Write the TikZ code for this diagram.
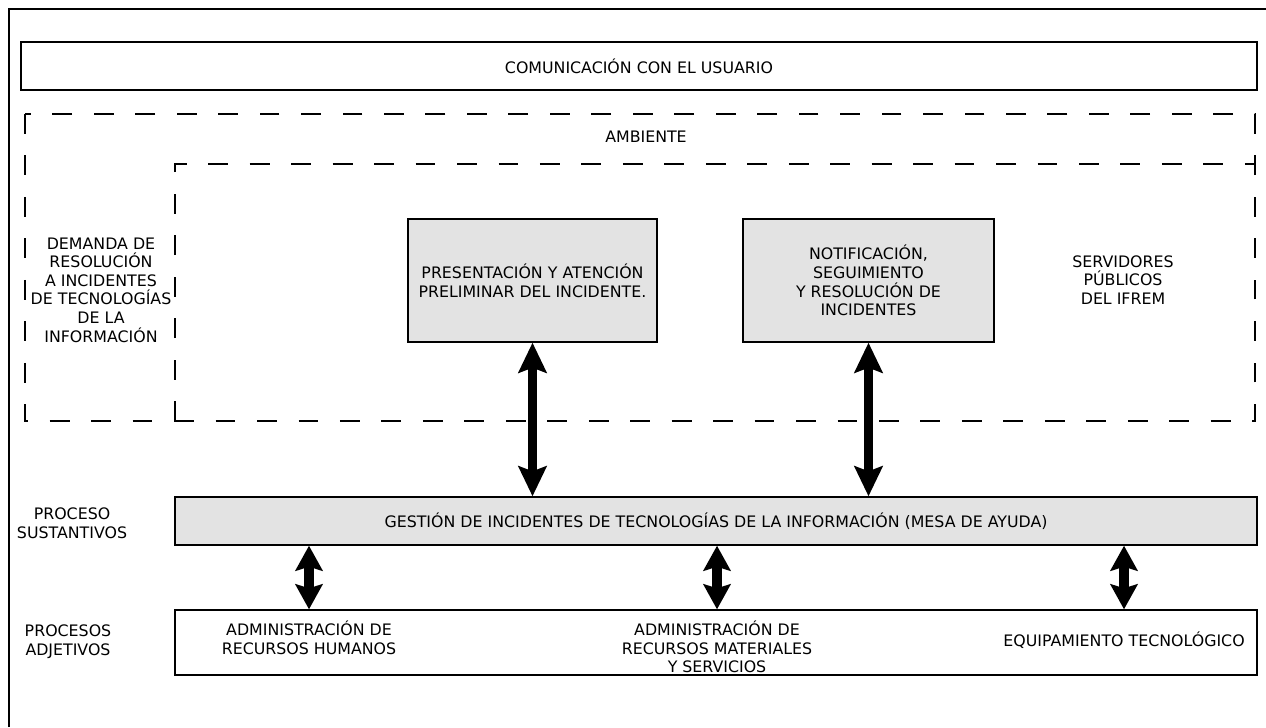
\documentclass[tikz,border=0pt]{standalone}
\usepackage{fontspec}
\setmainfont{DejaVu Sans}
\usetikzlibrary{arrows.meta,positioning,calc}
\tikzset {>=Stealth}
\tikzset{
  box/.style={draw,line width=.8pt,inner sep=0pt},
  shaded/.style={box,fill=gray!22},
  txt/.style={align=center,font=\fontsize{9}{10.6}\selectfont},
  ambdash/.style={dash pattern=on 11.3pt off 12.3pt,line width=.8pt},
  bigarrow/.style={{Stealth[width=.56cm,length=.6cm,inset=.1cm]}-{Stealth[width=.56cm,length=.6cm,inset=.1cm]},line width=.19cm},
  smallarrow/.style={{Stealth[width=.54cm,length=.5cm,inset=.08cm]}-{Stealth[width=.54cm,length=.5cm,inset=.08cm]},line width=.19cm}
}

\begin{document}
\begin{tikzpicture}[x=.02cm,y=-.02cm]
\useasboundingbox (0,0) rectangle (1266,727);
% marco
\draw[line width=.6pt] (9,727) -- (9,9) -- (1266,9);

\node[box,txt,minimum width=24.72cm,minimum height=.96cm] (com) at (639,66) {COMUNICACIÓN CON EL USUARIO};

% ambiente
\draw[ambdash] (25,114) rectangle (1255,421);
\draw[ambdash] (175,421) -- (175,164) -- (1255,164);
\node[txt] (amb) at (646,137) {AMBIENTE};
\node[txt] (dem) at (101,290) {DEMANDA DE\\RESOLUCIÓN\\A INCIDENTES\\DE TECNOLOGÍAS\\DE LA\\INFORMACIÓN};
\node[txt] (serv) at (1123,280) {SERVIDORES\\PÚBLICOS\\DEL IFREM};

\node[shaded,txt,minimum width=4.98cm,minimum height=2.46cm] (pres) at (532.5,280.5)
  {PRESENTACIÓN Y ATENCIÓN\\PRELIMINAR DEL INCIDENTE.};
\node[shaded,txt,minimum width=5.02cm,minimum height=2.46cm] (notif) at (868.5,280.5)
  {NOTIFICACIÓN,\\SEGUIMIENTO\\Y RESOLUCIÓN DE\\INCIDENTES};

% procesos
\node[shaded,txt,minimum width=21.64cm,minimum height=.96cm] (gest) at (716,521)
  {GESTIÓN DE INCIDENTES DE TECNOLOGÍAS DE LA INFORMACIÓN (MESA DE AYUDA)};
\node[box,minimum width=21.64cm,minimum height=1.3cm] (proc) at (716,642.5) {};
\node[txt] (hum) at (309,638) {ADMINISTRACIÓN DE\\RECURSOS HUMANOS};
\node[txt] (mat) at (717,647) {ADMINISTRACIÓN DE\\RECURSOS MATERIALES\\Y SERVICIOS};
\node[txt] (equ) at (1124,640) {EQUIPAMIENTO TECNOLÓGICO};
\node[txt] (sust) at (72,523) {PROCESO\\SUSTANTIVOS};
\node[txt] (adj) at (68,642) {PROCESOS\\ADJETIVOS};

\draw[bigarrow] (pres.south) -- (pres.south |- gest.north);
\draw[bigarrow] (notif.south) -- (notif.south |- gest.north);
\foreach \n in {hum,mat,equ}
  \draw[smallarrow] (gest.south -| \n) -- (proc.north -| \n);
\end{tikzpicture}
\end{document}
